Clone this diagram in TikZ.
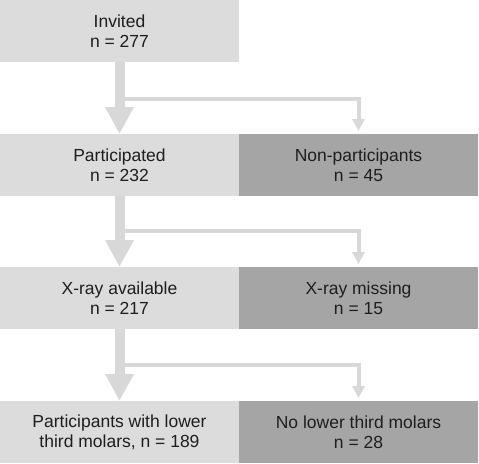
\documentclass[tikz,border=0pt]{standalone}
\usepackage{fontspec}
\setmainfont{Liberation Sans}
\usetikzlibrary{arrows.meta,calc}
\definecolor{lightbox}{HTML}{DCDCDC}
\definecolor{darkbox}{HTML}{A5A5A5}
\definecolor{arrowc}{HTML}{D8D8D8}
\definecolor{txt}{HTML}{1E1E1E}
\tikzset{
  box/.style={minimum width=239pt, minimum height=62pt, inner sep=0pt, outer sep=0pt,
    align=center, text=txt, font=\fontsize{17.5}{20}\selectfont},
  lbox/.style={box, fill=lightbox},
  dbox/.style={box, fill=darkbox},
  mainarrow/.style={draw=arrowc, line width=10pt, -{Triangle[width=27pt,length=27pt]}, arrowc},
  brancharrow/.style={draw=arrowc, line width=4pt, -{Triangle[width=12pt,length=12pt]}, arrowc, shorten >=3pt},
}
\begin{document}
\begin{tikzpicture}[x=1pt,y=-1pt]
\useasboundingbox (0,0) rectangle (479,463);
\node[lbox] (inv) at (119.5,31) {Invited\\n = 277};
\node[lbox] (par) at (119.5,165) {Participated\\n = 232};
\node[dbox] (non) at (358.5,165) {Non-participants\\n = 45};
\node[lbox] (xa) at (119.5,298) {X-ray available\\n = 217};
\node[dbox] (xm) at (358.5,298) {X-ray missing\\n = 15};
\node[lbox] (pw) at (119.5,432) {Participants with lower\\third molars, n = 189};
\node[dbox] (nl) at (358.5,432) {No lower third molars\\n = 28};
\coordinate (b1) at ($(inv.south)+(0,37)$);
\coordinate (b2) at ($(par.south)+(0,35)$);
\coordinate (b3) at ($(xa.south)+(0,36)$);
\draw[brancharrow] (b1) -| (non.north);
\draw[brancharrow] (b2) -| (xm.north);
\draw[brancharrow] (b3) -| (nl.north);
\draw[mainarrow] (inv.south) -- (par.north);
\draw[mainarrow] (par.south) -- (xa.north);
\draw[mainarrow] (xa.south) -- (pw.north);
\end{tikzpicture}
\end{document}
